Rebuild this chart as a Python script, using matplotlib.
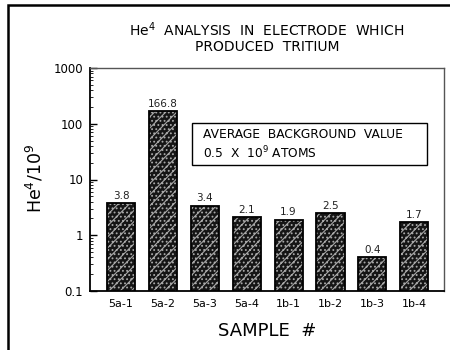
import matplotlib
matplotlib.use('Agg')
import matplotlib.pyplot as plt
from matplotlib.patches import Rectangle
import numpy as np

# --------------------------------------------------------------------------------
# Data
aSamples = ['5a-1', '5a-2', '5a-3', '5a-4', '1b-1', '1b-2', '1b-3', '1b-4']
aHeValues = [3.8, 166.8, 3.4, 2.1, 1.9, 2.5, 0.4, 1.7]
aValueLabels = ['3.8', '166.8', '3.4', '2.1', '1.9', '2.5', '0.4', '1.7']
aYTicks = [0.1, 1, 10, 100, 1000]
aYTickLabels = ['0.1', '1', '10', '100', '1000']
# --------------------------------------------------------------------------------

plt.rcParams['font.family'] = ['DejaVu Sans']
plt.rcParams['hatch.linewidth'] = 0.8

oFig = plt.figure(figsize=(4.5, 3.5), dpi=100)
oAx = oFig.add_axes([90 / 450, 1 - 291 / 350, 354 / 450, 223 / 350])

# Outer frame
oFig.add_artist(Rectangle((8 / 450, -0.05), 1.2, 1 - 5 / 350 + 0.05, transform=oFig.transFigure,
                          fill=False, edgecolor='black', linewidth=1.8))

# Bars: dark fill with grey hatch, then black outline
a1iX = np.arange(len(aSamples))
oAx.bar(a1iX, aHeValues, width=0.67, color='#151515',
        edgecolor='#a8a8a8', hatch='///....', linewidth=0, zorder=2)
oAx.bar(a1iX, aHeValues, width=0.67, fill=False,
        edgecolor='black', linewidth=1.3, zorder=3)

# Value labels
for iP in range(len(aSamples)):
    oAx.text(a1iX[iP], aHeValues[iP] * 1.1, aValueLabels[iP], ha='center', va='bottom',
             fontsize=7.5, color='#222222')

oAx.set_yscale('log')
oAx.set_ylim(0.1, 1000)
oAx.set_xlim(-0.74, 7.71)
oAx.set_yticks(aYTicks)
oAx.set_yticklabels(aYTickLabels, fontsize=8.5)
oAx.set_xticks(a1iX)
oAx.set_xticklabels(aSamples, fontsize=8)
oAx.tick_params(axis='x', length=0, pad=6)
oAx.tick_params(axis='y', which='major', direction='in', length=5, width=1, pad=5)
oAx.tick_params(axis='y', which='minor', direction='in', length=2.5, width=0.6)

for sSide in ['top', 'right']:
    oAx.spines[sSide].set_color('#555555')
    oAx.spines[sSide].set_linewidth(1.0)
for sSide in ['left', 'bottom']:
    oAx.spines[sSide].set_color('black')
    oAx.spines[sSide].set_linewidth(1.3)

oAx.set_xlabel('SAMPLE  #', fontsize=13, labelpad=9)
oFig.text(35 / 450, 1 - 178 / 350, 'He$^4$/10$^9$', rotation=90, ha='center', va='center', fontsize=12.5)

# Title
oFig.text(267 / 450, 1 - 30 / 350, 'He$^4$  ANALYSIS  IN  ELECTRODE  WHICH', ha='center', va='center', fontsize=10)
oFig.text(267 / 450, 1 - 47 / 350, 'PRODUCED  TRITIUM', ha='center', va='center', fontsize=10)

# Background box
oFig.add_artist(Rectangle((192 / 450, 1 - 165 / 350), (427 - 192) / 450, 42 / 350,
                          transform=oFig.transFigure, fill=True, facecolor='white',
                          edgecolor='black', linewidth=1.0, zorder=5))
oFig.text(203 / 450, 1 - 135 / 350, 'AVERAGE  BACKGROUND  VALUE', ha='left', va='center',
          fontsize=8.8, zorder=6)
oFig.text(203 / 450, 1 - 153 / 350, '0.5  X  10$^{9}$ ATOMS', ha='left', va='center',
          fontsize=8.8, zorder=6)

oFig.savefig('out.png', dpi=100)
